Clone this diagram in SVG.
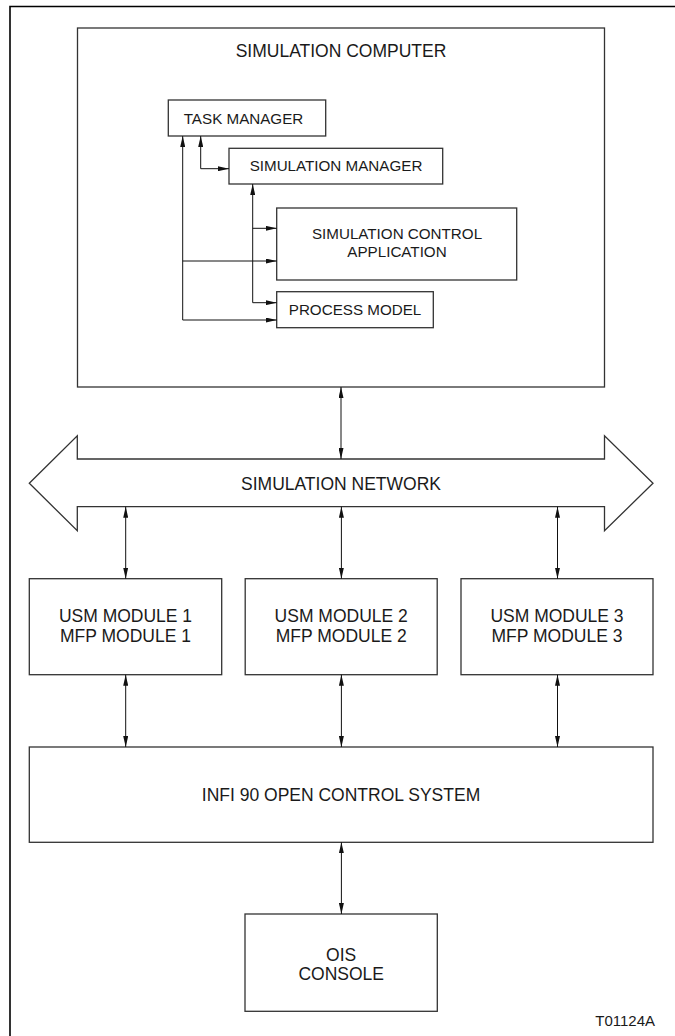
<svg xmlns="http://www.w3.org/2000/svg" width="675" height="1036" viewBox="0 0 675 1036">
<style>
  .box { fill: #fff; stroke: #333; stroke-width: 1.3; }
  .lbl { font-family: "Liberation Sans", Arial, sans-serif; font-size: 17.5px; fill: #1a1a1a; text-anchor: middle; }
  .sm { font-size: 15.2px; }
  .con { fill: none; stroke: #111; stroke-width: 1; }
  .frame { fill: none; stroke: #000; stroke-width: 1.6; }
</style>
<defs>
  <marker id="ah" viewBox="0 0 11 5" markerWidth="11" markerHeight="5" refX="11" refY="2.5" orient="auto-start-reverse" markerUnits="userSpaceOnUse">
    <path d="M0,0 L11,2.5 L0,5 z" fill="#111"/>
  </marker>
</defs>
<rect width="675" height="1036" fill="#fff"/>
<path class="frame" d="M10,1036 L10,6.5 L675,6.5"/>

<g id="sim-computer">
  <rect class="box" x="77.5" y="28" width="527" height="359"/>
  <text class="lbl" x="341" y="57">SIMULATION COMPUTER</text>
</g>
<g id="task-manager">
  <rect class="box" x="168.3" y="100" width="157.4" height="36"/>
  <text class="lbl sm" x="243.5" y="123.5">TASK MANAGER</text>
</g>
<g id="simulation-manager">
  <rect class="box" x="229" y="148.3" width="213.7" height="35.7"/>
  <text class="lbl sm" x="336" y="171">SIMULATION MANAGER</text>
</g>
<g id="simulation-control-application">
  <rect class="box" x="276.7" y="208" width="240" height="72"/>
  <text class="lbl sm" x="397" y="239">SIMULATION CONTROL</text>
  <text class="lbl sm" x="397" y="257">APPLICATION</text>
</g>
<g id="process-model">
  <rect class="box" x="276.7" y="291.7" width="156.6" height="36"/>
  <text class="lbl sm" x="355" y="315">PROCESS MODEL</text>
</g>
<g id="simulation-network">
  <path class="box" stroke-width="1.1" d="M29.3,483.3 L77.3,435.7 L77.3,459 L604.5,459 L604.5,435.7 L653,483.3 L604.5,530.7 L604.5,506.7 L77.3,506.7 L77.3,530.7 Z"/>
  <text class="lbl" x="341" y="489.5">SIMULATION NETWORK</text>
</g>
<g id="usm-1">
  <rect class="box" x="29.3" y="578.7" width="192.4" height="96"/>
  <text class="lbl" x="125.5" y="621.7">USM MODULE 1</text>
  <text class="lbl" x="125.5" y="641.7">MFP MODULE 1</text>
</g>
<g id="usm-2">
  <rect class="box" x="245.2" y="578.7" width="192" height="96"/>
  <text class="lbl" x="341.2" y="621.7">USM MODULE 2</text>
  <text class="lbl" x="341.2" y="641.7">MFP MODULE 2</text>
</g>
<g id="usm-3">
  <rect class="box" x="461" y="578.7" width="192" height="96"/>
  <text class="lbl" x="557" y="621.7">USM MODULE 3</text>
  <text class="lbl" x="557" y="641.7">MFP MODULE 3</text>
</g>
<g id="infi90">
  <rect class="box" x="29.3" y="747" width="623.7" height="95.3"/>
  <text class="lbl" x="341" y="801">INFI 90 OPEN CONTROL SYSTEM</text>
</g>
<g id="ois-console">
  <rect class="box" x="245" y="914" width="192.3" height="97.3"/>
  <text class="lbl" x="341.2" y="961">OIS</text>
  <text class="lbl" x="341.2" y="980">CONSOLE</text>
</g>
<text class="lbl" style="text-anchor:end;font-size:15px" x="655" y="1026">T01124A</text>

<g id="connectors">
  <path class="con" marker-start="url(#ah)" marker-end="url(#ah)" d="M182.7,136 L182.7,320 L276.7,320"/>
  <path class="con" marker-end="url(#ah)" d="M182.7,261 L276.7,261"/>
  <path class="con" marker-start="url(#ah)" marker-end="url(#ah)" d="M200.7,136 L200.7,168.7 L229,168.7"/>
  <path class="con" marker-start="url(#ah)" marker-end="url(#ah)" d="M252.7,184 L252.7,302.7 L276.7,302.7"/>
  <path class="con" marker-end="url(#ah)" d="M252.7,228.3 L276.7,228.3"/>
  <path class="con" marker-start="url(#ah)" marker-end="url(#ah)" d="M341,387 L341,459"/>
  <path class="con" marker-start="url(#ah)" marker-end="url(#ah)" d="M125.7,506.7 L125.7,578.7"/>
  <path class="con" marker-start="url(#ah)" marker-end="url(#ah)" d="M341.4,506.7 L341.4,578.7"/>
  <path class="con" marker-start="url(#ah)" marker-end="url(#ah)" d="M557.5,506.7 L557.5,578.7"/>
  <path class="con" marker-start="url(#ah)" marker-end="url(#ah)" d="M125.7,674.7 L125.7,747"/>
  <path class="con" marker-start="url(#ah)" marker-end="url(#ah)" d="M341.4,674.7 L341.4,747"/>
  <path class="con" marker-start="url(#ah)" marker-end="url(#ah)" d="M557.5,674.7 L557.5,747"/>
  <path class="con" marker-start="url(#ah)" marker-end="url(#ah)" d="M341.4,842.3 L341.4,914"/>
</g>
</svg>
